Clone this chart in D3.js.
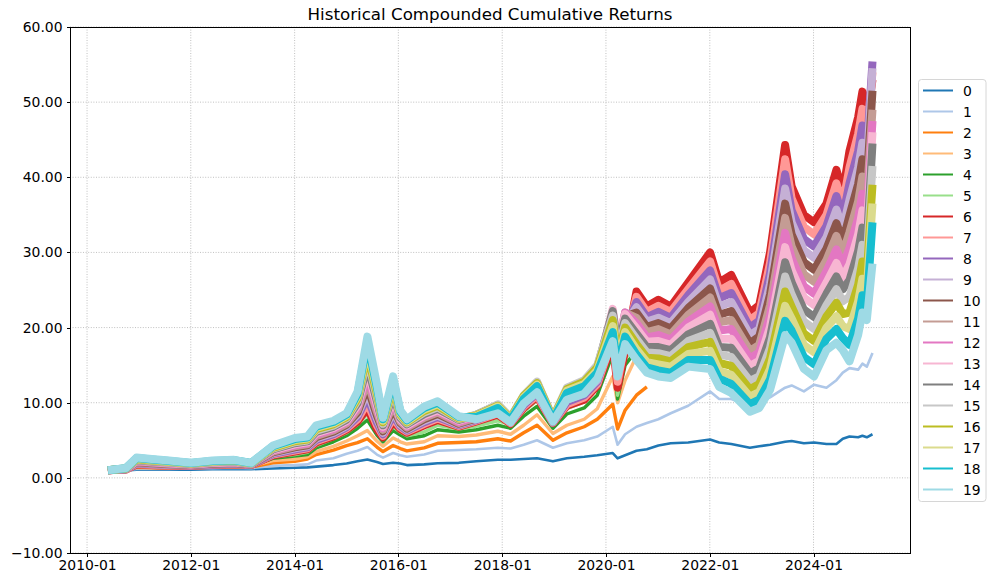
<!DOCTYPE html>
<meta charset="utf-8">
<style>
body { margin: 0; background: #fff; }
text { font-family: "DejaVu Sans", sans-serif; fill: #000; }
.grid line { stroke: #b0b0b0; stroke-width: 0.8px; stroke-dasharray: 1,1.6; }
.series { fill: none; stroke-linejoin: round; stroke-linecap: butt; }
.spine { fill: none; stroke: #000; stroke-width: 1px; shape-rendering: crispEdges; }
.tick line { stroke: #000; stroke-width: 1px; shape-rendering: crispEdges; }
</style>
<body>
<script src="https://d3js.org/d3.v7.min.js"></script>
<script>

var dates = ["2010-05-28","2010-10-01","2010-12-15","2011-04-01","2011-08-01","2012-01-02","2012-06-01","2012-11-01","2013-03-01","2013-08-01",
  "2014-01-02","2014-04-01","2014-06-02","2014-10-01","2015-01-02","2015-03-20","2015-05-28","2015-08-03","2015-09-15","2015-11-25",
  "2016-01-15","2016-03-01","2016-07-01","2016-10-03","2017-03-01","2017-07-03","2017-12-01","2018-03-01","2018-06-01","2018-09-03",
  "2018-12-24","2019-04-01","2019-08-01","2019-11-01","2020-02-18","2020-03-23","2020-05-15","2020-08-03","2020-10-15","2021-01-04",
  "2021-04-01","2021-08-02","2022-01-03","2022-03-08","2022-06-01","2022-10-10","2022-12-15","2023-03-01","2023-06-15","2023-07-31",
  "2023-10-25","2024-01-05","2024-04-01","2024-06-10","2024-07-25","2024-09-10","2024-11-10","2024-12-10","2025-01-10","2025-02-19"];

var s0 = [1.0,1.0,1.1,1.1,1.1,1.1,1.15,1.2,1.15,1.25,1.35,1.4,1.5,1.7,1.9,2.2,2.45,2.1,1.85,2.0,1.9,1.7,1.8,1.95,2.0,2.2,2.4,2.4,2.5,2.6,
  2.2,2.6,2.8,3.0,3.3,2.6,3.0,3.6,3.8,4.3,4.6,4.7,5.1,4.7,4.5,4.0,4.2,4.4,4.8,4.9,4.6,4.7,4.5,4.5,5.2,5.5,5.4,5.6,5.4,5.8];
var s1 = [1.0,1.05,1.2,1.2,1.2,1.25,1.3,1.35,1.3,1.6,1.7,1.8,2.3,2.6,3.2,3.6,4.1,3.1,2.7,3.3,3.0,2.8,3.1,3.6,3.7,3.8,4.0,3.9,4.4,5.0,
  4.0,4.6,5.0,5.5,6.8,4.4,5.8,6.8,7.3,7.8,8.6,9.6,11.5,10.5,10.5,9.6,10.0,10.7,12.0,12.3,11.5,12.4,12.0,13.0,14.0,14.6,14.4,15.2,14.8,16.6];
var s2 = [1.0,1.05,1.4,1.35,1.3,1.35,1.45,1.5,1.45,2.0,2.2,2.5,3.1,3.7,4.3,4.7,5.2,4.1,3.5,4.3,3.9,3.6,4.0,4.6,4.7,4.8,5.2,4.9,6.0,7.0,
  5.0,6.0,6.8,7.8,9.8,6.5,9.0,11.0,12.1];
var s3 = [1.0,1.05,1.5,1.45,1.4,1.45,1.55,1.6,1.55,2.3,2.5,2.8,3.5,4.2,4.9,5.6,6.3,4.9,4.2,5.3,4.8,4.5,4.8,5.6,5.5,5.7,6.2,5.8,7.0,8.4,
  5.9,7.0,7.8,9.2,13.5,10.0,13.0,16.2];
var s4 = [1.0,1.1,1.6,1.5,1.45,1.5,1.6,1.7,1.6,2.6,2.9,3.1,4.0,4.8,5.6,6.6,7.7,5.7,4.8,6.3,5.7,5.2,5.6,6.4,6.1,6.4,7.0,6.6,8.2,9.5,
  6.6,8.5,9.3,11.0,16.5,10.5,15.0,17.0];
var s5 = [1.0,1.1,1.7,1.6,1.5,1.55,1.65,1.75,1.65,2.8,3.1,3.4,4.3,5.2,6.0,7.1,8.5,6.1,5.1,6.8,6.1,5.6,6.1,7.0,6.5,6.9,7.6,7.1,8.8,10.3,
  7.2,9.2,10.1,12.0,17.5,11.0,15.8,18.0];
var s6 = [1.0,1.1,1.8,1.7,1.6,1.6,1.7,1.8,1.7,3.0,3.5,3.8,4.7,5.5,6.4,7.5,9.3,6.5,5.4,7.5,6.5,6.0,7.0,7.7,6.8,7.5,8.4,7.2,9.3,10.8,
  7.3,9.6,10.4,12.3,18.0,12.0,17.0,24.8,22.8,23.7,22.8,26.0,30.0,26.0,27.0,22.0,23.0,30.0,44.3,38.8,35.0,34.0,36.5,41.0,38.0,43.5,48.0,51.4,47.6,53.0];
var s7 = [1.0,1.12,1.87,1.76,1.65,1.63,1.75,1.85,1.72,3.1,3.64,3.93,4.88,5.66,6.57,7.81,10.0,7.0,5.6,8.0,6.7,6.14,7.2,7.9,6.9,7.6,8.6,7.3,9.5,11.0,
  7.35,9.8,10.7,12.5,18.6,12.8,18.0,24.1,22.1,22.9,22.1,25.1,28.8,24.9,25.8,21.0,21.9,28.6,42.4,37.2,33.4,32.4,35.0,39.2,36.4,41.3,45.8,49.1,45.6,54.0];
var s8 = [1.0,1.13,1.94,1.82,1.71,1.66,1.79,1.89,1.75,3.2,3.78,4.06,5.05,5.82,6.74,8.12,10.8,7.4,5.8,8.4,6.9,6.28,7.4,8.1,7.0,7.7,8.8,7.4,9.7,11.3,
  7.4,10.1,11.0,12.8,19.3,13.8,19.5,23.4,21.4,22.1,21.3,24.3,27.6,23.9,24.6,20.0,20.9,27.2,40.4,35.6,31.8,30.8,33.5,37.5,34.8,39.2,43.5,46.9,43.5,55.4];
var s9 = [1.0,1.15,2.01,1.88,1.76,1.69,1.84,1.94,1.77,3.3,3.92,4.19,5.23,5.98,6.91,8.42,11.5,7.9,6.0,8.9,7.1,6.42,7.6,8.3,7.1,7.8,9.0,7.5,9.9,11.5,
  7.45,10.4,11.3,13.0,20.0,14.8,20.5,22.7,20.8,21.3,20.6,23.4,26.4,22.8,23.4,19.0,19.8,25.8,38.5,34.0,30.3,29.3,32.0,35.7,33.2,37.0,41.3,44.6,41.5,54.5];
var s10 = [1.0,1.16,2.08,1.95,1.82,1.72,1.88,1.98,1.79,3.4,4.05,4.32,5.41,6.15,7.08,8.73,12.2,8.3,6.2,9.3,7.3,6.55,7.8,8.5,7.2,7.9,9.2,7.6,10.1,11.8,
  7.5,10.7,11.6,13.3,20.7,15.8,21.5,22.0,20.1,20.6,19.9,22.6,25.2,21.7,22.2,17.9,18.8,24.4,36.5,32.4,28.7,27.7,30.5,33.9,31.5,34.9,39.1,42.4,39.4,51.5];
var s11 = [1.0,1.18,2.15,2.01,1.87,1.75,1.93,2.03,1.82,3.5,4.19,4.45,5.58,6.31,7.25,9.04,12.9,8.8,6.4,9.8,7.5,6.69,8.0,8.7,7.3,8.0,9.3,7.7,10.3,12.0,
  7.6,11.0,11.9,13.6,21.4,16.8,22.0,21.3,19.4,19.8,19.1,21.7,24.0,20.7,21.0,16.9,17.7,23.0,34.6,30.8,27.1,26.1,29.0,32.2,29.9,32.7,36.8,40.1,37.4,49.0];
var s12 = [1.0,1.19,2.22,2.07,1.92,1.78,1.98,2.08,1.84,3.6,4.33,4.58,5.76,6.47,7.42,9.35,13.7,9.3,6.6,10.3,7.7,6.83,8.2,8.9,7.4,8.2,9.5,7.8,10.5,12.3,
  7.7,11.3,12.2,13.9,22.0,17.6,22.0,20.6,18.7,19.0,18.4,20.8,22.8,19.6,19.8,15.9,16.7,21.6,32.6,29.2,25.5,24.5,27.5,30.4,28.3,30.6,34.6,37.8,35.3,47.5];
var s13 = [1.0,1.21,2.28,2.13,1.98,1.82,2.02,2.12,1.86,3.7,4.47,4.72,5.94,6.63,7.58,9.65,14.4,9.7,6.8,10.7,7.8,6.97,8.3,9.0,7.6,8.3,9.6,7.9,10.7,12.5,
  7.8,11.6,12.5,14.3,22.5,18.0,21.8,19.9,18.1,18.2,17.7,20.0,21.7,18.5,18.5,14.9,15.6,20.1,30.7,27.6,24.0,23.0,26.0,28.6,26.7,28.4,32.4,35.6,33.3,46.0];
var s14 = [1.0,1.22,2.35,2.19,2.03,1.85,2.07,2.17,1.88,3.8,4.61,4.85,6.12,6.79,7.75,9.96,15.1,10.2,7.0,11.2,8.0,7.11,8.5,9.2,7.7,8.4,9.7,8.0,10.9,12.7,
  7.9,11.8,12.8,14.7,22.2,17.6,21.2,19.2,17.4,17.4,17.0,19.1,20.5,17.4,17.3,13.9,14.6,18.7,28.7,26.0,22.4,21.4,24.5,26.8,25.1,26.3,30.2,33.3,31.2,44.5];
var s15 = [1.0,1.24,2.42,2.25,2.08,1.88,2.12,2.22,1.91,3.9,4.75,4.98,6.29,6.95,7.92,10.27,15.9,10.7,7.2,11.7,8.2,7.25,8.7,9.4,7.8,8.4,9.8,8.0,11.0,12.8,
  8.0,12.0,13.0,15.0,21.6,16.9,20.6,18.5,16.7,16.6,16.2,18.2,19.3,16.4,16.1,12.9,13.5,17.3,26.8,24.4,20.8,19.8,23.0,25.1,23.5,24.1,27.9,31.0,29.2,41.5];
var s16 = [1.0,1.25,2.49,2.32,2.14,1.91,2.16,2.26,1.93,4.0,4.88,5.11,6.47,7.12,8.09,10.58,16.6,11.1,7.4,12.1,8.4,7.38,8.9,9.6,7.9,8.3,9.6,7.9,10.9,12.6,
  7.9,11.8,12.8,14.7,21.0,16.2,20.0,17.8,16.0,15.9,15.5,17.4,18.1,15.3,14.9,11.8,12.5,15.9,24.8,22.8,19.2,18.2,21.5,23.3,21.8,22.0,25.7,28.8,27.1,39.0];
var s17 = [1.0,1.27,2.56,2.38,2.19,1.94,2.21,2.31,1.95,4.1,5.02,5.24,6.65,7.28,8.26,10.88,17.3,11.6,7.6,12.6,8.6,7.52,9.1,9.8,8.0,8.2,9.5,7.8,10.7,12.4,
  7.8,11.6,12.5,14.3,20.2,15.4,19.4,17.1,15.4,15.1,14.8,16.5,16.9,14.2,13.7,10.8,11.4,14.5,22.9,21.2,17.7,16.7,20.0,21.5,20.2,19.8,23.5,26.5,25.1,36.5];
var s18 = [1.0,1.28,2.63,2.44,2.25,1.97,2.25,2.35,1.98,4.2,5.16,5.37,6.82,7.44,8.43,11.19,18.1,12.0,7.8,13.0,8.8,7.66,9.3,10.0,8.1,8.1,9.3,7.7,10.5,12.2,
  7.7,11.3,12.2,14.0,19.4,14.6,18.8,16.4,14.7,14.3,14.0,15.7,15.7,13.2,12.5,9.8,10.4,13.1,20.9,19.6,16.1,15.1,18.5,19.8,18.6,17.7,21.2,24.3,23.0,34.0];
var s19 = [1.0,1.3,2.7,2.5,2.3,2.0,2.3,2.4,2.0,4.3,5.3,5.5,7.0,7.6,8.6,11.5,18.8,12.5,8.0,13.5,9.0,7.8,9.5,10.2,8.2,7.8,8.6,7.4,9.9,11.4,
  7.5,10.4,11.2,13.2,18.2,13.5,17.8,15.7,14.0,13.5,13.3,14.8,14.5,12.1,11.3,8.8,9.3,11.7,19.0,18.0,14.5,13.5,17.0,18.0,17.0,15.5,19.0,22.0,21.0,28.5];

var seriesValues = [s0,s1,s2,s3,s4,s5,s6,s7,s8,s9,s10,s11,s12,s13,s14,s15,s16,s17,s18,s19];
var names = d3.range(20).map(String);
var colors = ["#1f77b4","#aec7e8","#ff7f0e","#ffbb78","#2ca02c","#98df8a","#d62728","#ff9896","#9467bd","#c5b0d5",
  "#8c564b","#c49c94","#e377c2","#f7b6d2","#7f7f7f","#c7c7c7","#bcbd22","#dbdb8d","#17becf","#9edae5"];
var yTicks = [-10,0,10,20,30,40,50,60];
var xTicks = ["2010-01-01","2012-01-01","2014-01-01","2016-01-01","2018-01-01","2020-01-01","2022-01-01","2024-01-01"];

var width = 996, height = 585;
var plotLeft = 70, plotRight = 910, plotTop = 27, plotBottom = 553;
var parse = d3.timeParse("%Y-%m-%d");

var svg = d3.select("body").append("svg")
    .attr("width", width)
    .attr("height", height);

var x = d3.scaleTime()
    .domain([parse("2009-09-03"), parse("2025-11-10")])
    .range([plotLeft, plotRight]);
var y = d3.scaleLinear()
    .domain([-10, 60])
    .range([plotBottom, plotTop]);

// grid
var grid = svg.append("g").attr("class", "grid");
grid.selectAll(".gx").data(xTicks).enter().append("line")
    .attr("x1", d => x(parse(d))).attr("x2", d => x(parse(d)))
    .attr("y1", plotTop).attr("y2", plotBottom);
grid.selectAll(".gy").data(yTicks).enter().append("line")
    .attr("x1", plotLeft).attr("x2", plotRight)
    .attr("y1", d => y(d)).attr("y2", d => y(d));

var line = d3.line()
    .x(d => x(d.date))
    .y(d => y(d.v));

// the real lines are thin but very noisy, so the fan reads as solid bands
function widthFor(i) {
  if (i < 2) return 2.6;
  if (i < 6) return 3.4;
  return 8;
}

var plot = svg.append("g");
seriesValues.forEach(function(vals, i) {
  var pts = vals.map(function(v, j) { return {date: parse(dates[j]), v: v}; })
  plot.append("path")
      .datum(pts)
      .attr("class", "series")
      .attr("stroke", colors[i])
      .attr("stroke-width", widthFor(i))
      .attr("d", line);
});

// axes
svg.append("g")
    .attr("transform", "translate(0," + plotBottom + ")")
    .call(d3.axisBottom(x).tickValues(xTicks.map(parse)).tickFormat(d3.timeFormat("%Y-%m")).tickSize(3.5).tickPadding(4))
    .call(g => g.select(".domain").remove())
    .selectAll("text").attr("font-size", "13.9px").attr("font-family", "DejaVu Sans");

svg.append("g")
    .attr("transform", "translate(" + plotLeft + ",0)")
    .call(d3.axisLeft(y).tickValues(yTicks).tickFormat(d3.format(".2f")).tickSize(3.5).tickPadding(4))
    .call(g => g.select(".domain").remove())
    .selectAll("text").attr("font-size", "13.9px").attr("font-family", "DejaVu Sans");

svg.append("rect")
    .attr("class", "spine")
    .attr("x", plotLeft).attr("y", plotTop)
    .attr("width", plotRight - plotLeft).attr("height", plotBottom - plotTop);

svg.append("text")
    .attr("x", (plotLeft + plotRight) / 2)
    .attr("y", 20)
    .attr("text-anchor", "middle")
    .attr("font-size", "16.7px")
    .text("Historical Compounded Cumulative Returns");

// legend
var legend = svg.append("g");
legend.append("rect")
    .attr("x", 918.5).attr("y", 79.5)
    .attr("width", 67.5).attr("height", 422)
    .attr("rx", 3)
    .attr("fill", "#fff").attr("fill-opacity", 0.8)
    .attr("stroke", "#d6d6d6").attr("stroke-width", 1);

var item = legend.selectAll(".item").data(names).enter().append("g")
    .attr("transform", (d, i) => "translate(0," + (90.5 + i * 21) + ")");
item.append("line")
    .attr("x1", 923).attr("x2", 953)
    .attr("stroke", (d, i) => colors[i])
    .attr("stroke-width", 2);
item.append("text")
    .attr("x", 963).attr("dy", "0.36em")
    .attr("font-size", "13.9px")
    .text(d => d);

</script>
</body>
</html>
